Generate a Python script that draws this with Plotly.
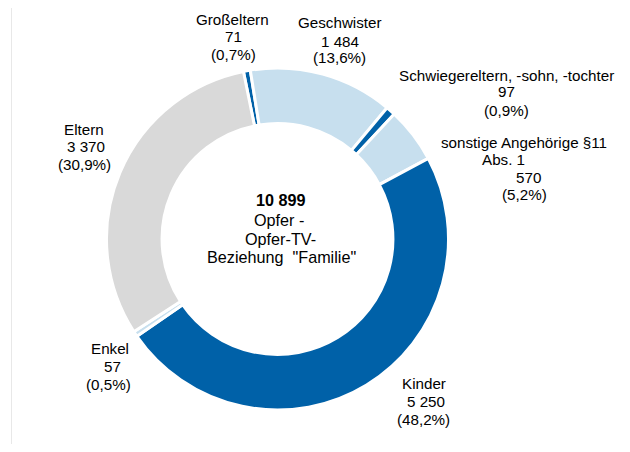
import plotly.graph_objects as go

# ---- data ----
categories = ["Großeltern", "Geschwister", "Schwiegereltern, -sohn, -tochter",
              "sonstige Angehörige §11|Abs. 1", "Kinder", "Enkel", "Eltern"]
values = [71, 1484, 97, 570, 5250, 57, 3370]
colors = ["#0061A8", "#C7DFEE", "#0061A8", "#C7DFEE", "#0061A8", "#C7DFEE", "#D9D9D9"]
center_lines = ["<b>10 899</b>", "Opfer -", "Opfer-TV-", "Beziehung  \"Familie\""]

total = sum(values)


def fmt_num(v):
    return f"{v:,}".replace(",", " ")


def fmt_pct(v):
    return f"({v/total*100:.1f}%)".replace(".", ",")


# ---- layout (positions in reference pixels: line centre x, centre y) ----
label_lines_pos = [
    [(232, 19), (233, 36.5), (233, 54)],
    [(339.5, 23), (339.5, 41), (339.5, 58)],
    [(506.5, 75), (506.5, 92), (506.5, 110)],
    [(523.5, 142), (503.5, 159), (528, 177), (524.5, 195)],
    [(423.5, 383), (426, 401), (423.5, 419)],
    [(109.5, 348), (112, 366), (108.5, 384)],
    [(84, 129), (86, 147), (84.5, 164)],
]
center_pos = [(280.5, 200), (278.5, 220), (280.5, 238.5), (281.5, 257)]

FONT = "Liberation Sans, Arial, sans-serif"
OFF = 8                       # page body margin
W, H = 630 - 2 * OFF, 452 - 2 * OFF
cx, cy, r = 277.5 - OFF, 239 - OFF, 171


def px(x):
    return (x - OFF) / W


def py(y):
    return 1 - (y - OFF) / H


fig = go.Figure(go.Pie(
    labels=[c.replace("|", " ") for c in categories], values=values,
    hole=0.675, sort=False, direction="clockwise", rotation=-11.5,
    marker=dict(colors=colors, line=dict(color="white", width=3)),
    textinfo="none", hoverinfo="label+value+percent", showlegend=False,
    domain=dict(x=[(cx - r) / W, (cx + r) / W], y=[(H - cy - r) / H, (H - cy + r) / H]),
))

for lab, v, poss in zip(categories, values, label_lines_pos):
    lines = lab.split("|") + [fmt_num(v), fmt_pct(v)]
    for txt, (x, y) in zip(lines, poss):
        fig.add_annotation(text=txt, x=px(x), y=py(y), xref="paper", yref="paper",
                           xanchor="center", yanchor="middle", showarrow=False,
                           font=dict(family=FONT, size=15.2, color="#000000"))

for txt, (x, y) in zip(center_lines, center_pos):
    fig.add_annotation(text=txt, x=px(x), y=py(y), xref="paper", yref="paper",
                       xanchor="center", yanchor="middle", showarrow=False,
                       font=dict(family=FONT, size=16.2, color="#000000"))

fig.add_shape(type="line", xref="paper", yref="paper",
              x0=px(11.5), x1=px(11.5), y0=py(2), y1=py(452),
              line=dict(color="#E8E8E8", width=1))

fig.update_layout(width=W, height=H, margin=dict(l=0, r=0, t=0, b=0),
                  paper_bgcolor="white", plot_bgcolor="white",
                  font=dict(family=FONT, size=15))

fig.write_html("out.html")
